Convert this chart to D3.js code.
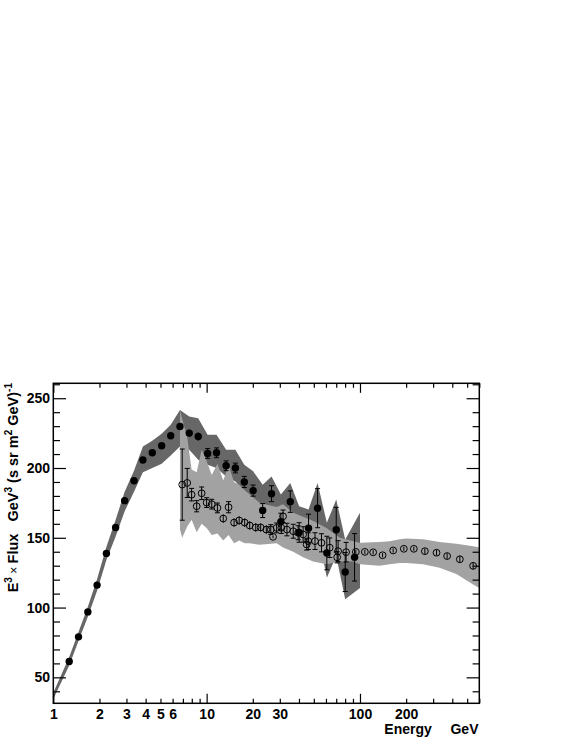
<!DOCTYPE html>
<html>
<head>
<meta charset="utf-8">
<script src="https://cdn.jsdelivr.net/npm/d3@7"></script>
<style>
  body { margin: 0; background: #fff; }
  svg text { font-family: "Liberation Sans", Arial, sans-serif; font-weight: bold; }
</style>
</head>
<body>
<div id="chart"></div>
<script>
// filled points (low energy) with dark systematic band
const filledE   = [1.27, 1.46, 1.68, 1.93, 2.22, 2.55, 2.92, 3.36, 3.84, 4.42, 5.09, 5.83, 6.70, 7.70, 8.81,
                   10.15, 11.6, 13.4, 15.4, 17.6, 20.1, 23.2, 26.5, 30.5, 35.1, 40.1, 46.2, 52.9, 60.8, 70.0, 80.1, 92.2];
const filledV   = [61.4, 79.0, 96.9, 116.1, 138.8, 157.4, 176.6, 190.9, 205.7, 210.9, 215.9, 223.1, 229.7, 225.0, 222.6,
                   210.4, 210.9, 201.6, 200.0, 190.0, 183.8, 169.5, 181.6, 161.6, 175.9, 153.8, 156.9, 171.2, 139.1, 155.8, 125.5, 136.0];
const filledErr = [1, 1, 1, 1, 1, 1, 1, 1.5, 1.5, 1.5, 2, 2, 2, 2.5, 3,
                   3.5, 3.5, 3.5, 3.5, 4, 4, 5, 5.7, 6, 7.7, 7, 10, 14, 12, 16, 14, 17];

// open points (high energy) with light systematic band
const openE   = [6.93, 7.47, 7.98, 8.61, 9.28, 10.0, 10.8, 11.76, 12.83, 13.9, 15.1, 16.3, 17.7, 19.1, 20.9, 22.5,
                 24.5, 26.2, 27.1, 28.6, 30.7, 31.5, 33.4, 36.7, 39.5, 42.6, 44.9, 46.0, 50.9, 56.1, 63.5, 71.0, 72.0,
                 81.2, 94.0, 107.6, 121.9, 140.4, 164.6, 193.2, 224.5, 264.9, 315.7, 370, 448, 547];
const openV   = [188.1, 189.3, 180.9, 172.6, 181.9, 175.2, 174.1, 171.4, 163.8, 171.9, 160.9, 162.4, 160.9, 158.8, 157.4, 157.4,
                 155.9, 155.9, 150.7, 157.1, 157.1, 165.4, 155.9, 154.7, 153.6, 152.4, 145.2, 147.6, 147.6, 146.4, 142.9, 136.0, 140.4,
                 139.7, 139.9, 139.9, 139.6, 137.5, 140.9, 142.1, 142.1, 140.4, 139.3, 136.9, 134.6, 129.9];
const openErr = [25.5, 10.4, 4.5, 4, 4.5, 3.5, 3.5, 3.5, 3, 4, 3, 3, 3, 3, 3, 3,
                 3, 3.5, 1, 3.5, 4, 4.5, 4.5, 5, 5, 5.5, 4, 6, 6, 6.5, 7, 4, 7.5,
                 7, 1.5, 1.5, 1.5, 1.5, 1.5, 1.5, 1.5, 2, 2, 2, 2.5, 2.5];

// band edges
const darkBandE  = [1.0, 1.27, 1.46, 1.68, 1.93, 2.22, 2.55, 2.92, 3.36, 3.84, 4.42, 5.09, 5.83, 6.70, 7.70, 8.81,
                    10.15, 11.6, 13.4, 15.4, 17.6, 20.1, 23.2, 26.5, 30.5, 35.1, 40.1, 46.2, 52.9, 60.8, 70.0, 80.1, 100];
const darkBandLo = [34.5, 58.5, 76, 93.5, 112, 134, 151, 169, 183, 197, 200, 203, 209, 215.4, 213, 206,
                    202.4, 200, 194, 190.4, 183.3, 178.6, 166, 172.6, 158, 165.4, 146.4, 148.8, 154.7, 121.4, 136.9, 106, 114];
const darkBandHi = [39, 64.5, 82.5, 100.5, 120.5, 143.5, 163, 183, 198, 215.5, 219.5, 224.5, 231, 241.6, 236.9, 235.7,
                    223.8, 223.8, 213, 213, 202.4, 197.6, 188, 194, 181, 189.3, 172.6, 170.2, 189.3, 160.7, 177.4, 148.8, 168];

const lightBandE  = [6.70, 6.93, 7.47, 7.98, 8.61, 9.28, 10.0, 10.8, 11.76, 12.83, 13.9, 15.1, 16.3, 17.7, 19.1, 22.2,
                     28.6, 31.5, 36.7, 42.6, 49.5, 60.5, 74.0, 90.2, 100, 134, 156, 182, 200, 258, 330, 425, 547, 600];
const lightBandLo = [156, 150, 158, 163, 154, 160, 157, 152, 153, 148, 152, 146, 148, 146, 146, 145,
                     146, 143, 140, 136, 133, 131, 133, 133, 131, 130, 131, 132, 132, 131, 128.6, 124, 116.6, 114];
const lightBandHi = [241.6, 235, 222, 199, 197, 213, 205, 195, 203, 191, 202, 190, 188, 184, 181, 175,
                     172, 174, 168, 165, 162, 157, 150, 147.5, 146.4, 147, 147.6, 149, 149.5, 149, 147, 145.7, 144, 143];

// axis ticks
const yMajor = [50, 100, 150, 200, 250];
const yMinor = [40, 60, 70, 80, 90, 110, 120, 130, 140, 160, 170, 180, 190, 210, 220, 230, 240, 260];
const xMajor = [1, 10, 100];
const xMinor = [2, 3, 4, 5, 6, 7, 8, 9, 20, 30, 40, 50, 60, 70, 80, 90, 200, 300, 400, 500, 600];
const xLabels = [1, 2, 3, 4, 5, 6, 10, 20, 30, 100, 200];

const width = 575, height = 744;
const plotL = 53.3, plotR = 479.3, plotT = 383.3, plotB = 703.3;

const svg = d3.select("#chart").append("svg")
  .attr("width", width)
  .attr("height", height);

const x = d3.scaleLog().domain([1, 600]).range([plotL, plotR]);
const y = d3.scaleLinear().domain([31.4, 260.7]).range([plotB, plotT]);

svg.append("clipPath").attr("id", "plot")
  .append("rect")
    .attr("x", plotL).attr("y", plotT)
    .attr("width", plotR - plotL).attr("height", plotB - plotT);

const area = d3.area()
  .x(d => x(d.e))
  .y0(d => y(d.lo))
  .y1(d => y(d.hi));

const darkBand = darkBandE.map((e, i) => ({ e, lo: darkBandLo[i], hi: darkBandHi[i] }));
const lightBand = lightBandE.map((e, i) => ({ e, lo: lightBandLo[i], hi: lightBandHi[i] }));

const plot = svg.append("g").attr("clip-path", "url(#plot)");

plot.append("path")
  .attr("d", area(darkBand))
  .attr("fill", "#676767");

plot.append("path")
  .attr("d", area(lightBand))
  .attr("fill", "#a2a2a2");

const filled = filledE.map((e, i) => ({ e, v: filledV[i], err: filledErr[i] }));
const open = openE.map((e, i) => ({ e, v: openV[i], err: openErr[i] }));

// error bars with small caps
function errorBars(data) {
  const g = plot.append("g").attr("stroke", "#000").attr("stroke-width", 1);
  g.selectAll(".bar").data(data).enter().append("line")
    .attr("x1", d => x(d.e)).attr("x2", d => x(d.e))
    .attr("y1", d => y(d.v - d.err)).attr("y2", d => y(d.v + d.err));
  g.selectAll(".capTop").data(data.filter(d => d.err > 3)).enter().append("line")
    .attr("x1", d => x(d.e) - 2.5).attr("x2", d => x(d.e) + 2.5)
    .attr("y1", d => y(d.v + d.err)).attr("y2", d => y(d.v + d.err));
  g.selectAll(".capBot").data(data.filter(d => d.err > 3)).enter().append("line")
    .attr("x1", d => x(d.e) - 2.5).attr("x2", d => x(d.e) + 2.5)
    .attr("y1", d => y(d.v - d.err)).attr("y2", d => y(d.v - d.err));
}
errorBars(open);
errorBars(filled);

plot.selectAll(".open").data(open).enter().append("circle")
  .attr("cx", d => x(d.e))
  .attr("cy", d => y(d.v))
  .attr("r", 3.4)
  .attr("fill", "none")
  .attr("stroke", "#000")
  .attr("stroke-width", 1);

plot.selectAll(".filled").data(filled).enter().append("circle")
  .attr("cx", d => x(d.e))
  .attr("cy", d => y(d.v))
  .attr("r", 3.7)
  .attr("fill", "#000");

// axes: ticks point inwards on all four sides
function styleAxis(g) {
  g.select(".domain").remove();
  g.selectAll("line").attr("stroke", "#000").attr("stroke-width", 1.2);
}

svg.append("g").attr("transform", `translate(${plotL},0)`)
  .call(d3.axisLeft(y).tickValues(yMajor).tickSize(-12.7).tickPadding(3.3).tickSizeOuter(0))
  .call(styleAxis)
  .selectAll("text").attr("font-size", 14).attr("fill", "#000");
svg.append("g").attr("transform", `translate(${plotL},0)`)
  .call(d3.axisLeft(y).tickValues(yMinor).tickSize(-6.7).tickFormat("").tickSizeOuter(0))
  .call(styleAxis);
svg.append("g").attr("transform", `translate(${plotR},0)`)
  .call(d3.axisRight(y).tickValues(yMajor).tickSize(-12.7).tickFormat("").tickSizeOuter(0))
  .call(styleAxis);
svg.append("g").attr("transform", `translate(${plotR},0)`)
  .call(d3.axisRight(y).tickValues(yMinor).tickSize(-6.7).tickFormat("").tickSizeOuter(0))
  .call(styleAxis);

svg.append("g").attr("transform", `translate(0,${plotB})`)
  .call(d3.axisBottom(x).tickValues(xMajor).tickSize(-9.5).tickFormat("").tickSizeOuter(0))
  .call(styleAxis);
svg.append("g").attr("transform", `translate(0,${plotB})`)
  .call(d3.axisBottom(x).tickValues(xMinor).tickSize(-4.5).tickFormat("").tickSizeOuter(0))
  .call(styleAxis);
svg.append("g").attr("transform", `translate(0,${plotB})`)
  .call(d3.axisBottom(x).tickValues(xLabels).tickSize(0).tickPadding(5.8).tickFormat(d3.format("d")).tickSizeOuter(0))
  .call(styleAxis)
  .selectAll("text").attr("font-size", 14).attr("fill", "#000");
svg.append("g").attr("transform", `translate(0,${plotT})`)
  .call(d3.axisTop(x).tickValues(xMajor).tickSize(-9.5).tickFormat("").tickSizeOuter(0))
  .call(styleAxis);
svg.append("g").attr("transform", `translate(0,${plotT})`)
  .call(d3.axisTop(x).tickValues(xMinor).tickSize(-4.5).tickFormat("").tickSizeOuter(0))
  .call(styleAxis);

// frame
svg.append("rect")
  .attr("x", plotL).attr("y", plotT)
  .attr("width", plotR - plotL).attr("height", plotB - plotT)
  .attr("fill", "none")
  .attr("stroke", "#000")
  .attr("stroke-width", 1.5);

// axis titles
svg.append("text")
  .attr("x", 384.3).attr("y", 734)
  .attr("font-size", 14)
  .text("Energy");
svg.append("text")
  .attr("x", 478.5).attr("y", 734)
  .attr("text-anchor", "end")
  .attr("font-size", 14)
  .text("GeV");

const yTitle = svg.append("text")
  .attr("transform", "translate(17.5,383) rotate(-90)")
  .attr("text-anchor", "end")
  .attr("font-size", 14.5)
  .style("white-space", "pre");
yTitle.append("tspan").text("E");
yTitle.append("tspan").attr("font-size", 10).attr("dy", -6).text("3");
yTitle.append("tspan").attr("dy", 6).attr("font-weight", "normal").attr("font-size", 12).text(" \u00d7 ");
yTitle.append("tspan").text("Flux   GeV");
yTitle.append("tspan").attr("font-size", 10).attr("dy", -6).text("3");
yTitle.append("tspan").attr("dy", 6).text(" (s sr m");
yTitle.append("tspan").attr("font-size", 10).attr("dy", -6).text("2");
yTitle.append("tspan").attr("dy", 6).text(" GeV)");
yTitle.append("tspan").attr("font-size", 10).attr("dy", -6).text("-1");
</script>
</body>
</html>
